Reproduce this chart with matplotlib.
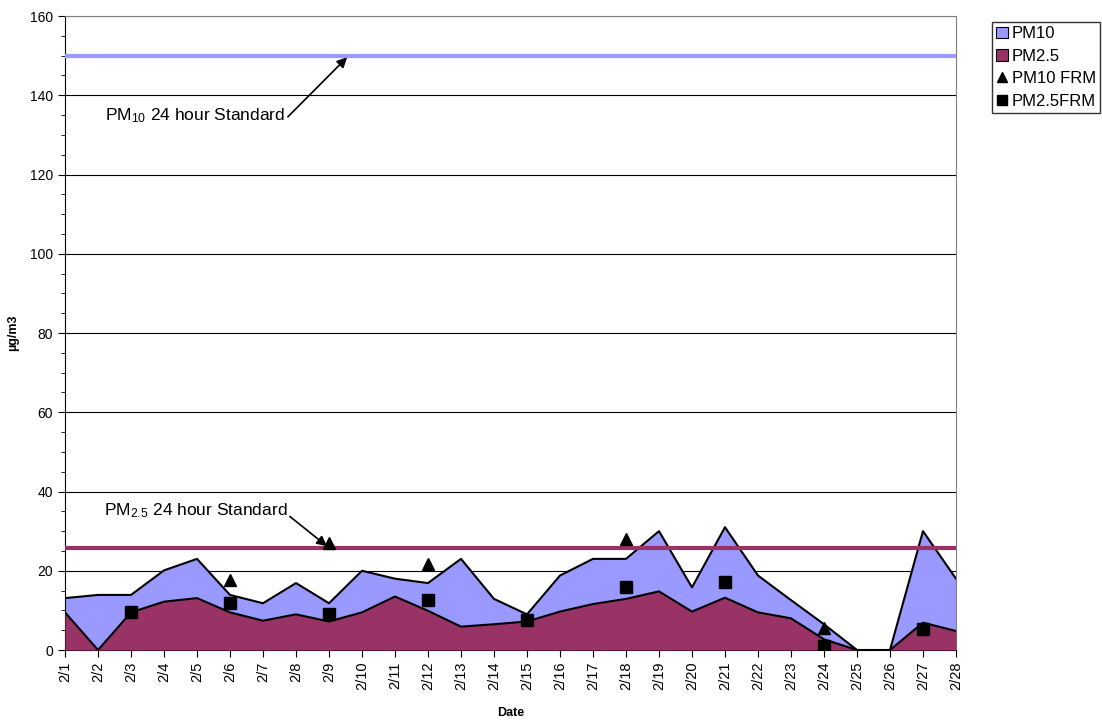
import numpy as np
import matplotlib.pyplot as plt
import matplotlib as mpl
from matplotlib.patches import Patch
from matplotlib.lines import Line2D
from matplotlib.ticker import MultipleLocator

mpl.rcParams.update({
    "font.family": ["Liberation Sans", "DejaVu Sans"],
    "mathtext.fontset": "custom",
    "mathtext.rm": "Liberation Sans",
    "mathtext.it": "Liberation Sans",
})

# Data
dates = [f"2/{d}" for d in range(1, 29)]
pm10 = [13.1, 13.9, 13.9, 20.1, 23.0, 13.9, 11.8, 16.9, 11.8, 20.0,
        18.0, 16.9, 23.0, 12.9, 9.0, 18.8, 23.0, 23.0, 30.0, 15.8,
        31.0, 18.8, 12.6, 6.5, 0.0, 0.0, 30.0, 18.0]
pm25 = [9.5, 0.0, 9.5, 12.2, 13.1, 9.5, 7.4, 9.0, 7.2, 9.5,
        13.5, 9.9, 5.9, 6.5, 7.2, 9.7, 11.6, 12.9, 14.8, 9.7,
        13.2, 9.5, 8.0, 2.7, 0.0, 0.0, 6.9, 4.8]
nan = np.nan
pm10_frm = [nan, nan, nan, nan, nan, 17.7, nan, nan, 27.0, nan,
            nan, 21.6, nan, nan, nan, nan, nan, 27.9, nan, nan,
            nan, nan, nan, 5.6, nan, nan, nan, nan]
pm25_frm = [nan, nan, 9.5, nan, nan, 11.8, nan, nan, 9.0, nan,
            nan, 12.5, nan, nan, 7.6, nan, nan, 15.9, nan, nan,
            17.2, nan, nan, 1.1, nan, nan, 5.3, nan]
pm10_std = 150
pm25_std = 25.7

x = np.arange(len(dates))

fig = plt.figure(figsize=(11.02, 7.22), dpi=100)
ax = fig.add_axes([0.059, 0.0997, 0.8085, 0.8781])

ax.yaxis.grid(True, color="black", linewidth=0.8, zorder=0)
ax.set_axisbelow(True)

ax.fill_between(x, pm10, color="#9999FF", zorder=2, linewidth=0)
ax.plot(x, pm10, color="black", linewidth=1.5, zorder=3)
ax.fill_between(x, pm25, color="#993366", zorder=4, linewidth=0)
ax.plot(x, pm25, color="black", linewidth=1.5, zorder=5)

ax.axhline(pm10_std, color="#9999FF", linewidth=3, zorder=6)
ax.axhline(pm25_std, color="#993366", linewidth=3, zorder=6)

ax.plot(x, pm10_frm, linestyle="none", marker="^", color="black", markersize=8, zorder=7)
ax.plot(x, pm25_frm, linestyle="none", marker="s", color="black", markersize=8, zorder=7)

arrow = dict(arrowstyle="-|>", color="black", lw=1.2, mutation_scale=15,
             shrinkA=0, shrinkB=0, relpos=(1.0, 0.3))
ax.annotate(r"PM$_{\mathrm{10}}$ 24 hour Standard", xy=(8.55, 149.6), xytext=(6.67, 134.8),
            ha="right", va="center", fontsize=12.5, arrowprops=arrow)
ax.annotate(r"PM$_{\mathrm{2.5}}$ 24 hour Standard", xy=(7.94, 26.2), xytext=(6.73, 35.2),
            ha="right", va="center", fontsize=12.5, arrowprops=arrow)

ax.set_xlim(0, len(dates) - 1)
ax.set_ylim(0, 160)
ax.set_xticks(x)
ax.set_xticklabels(dates, rotation=90, fontsize=10.5)
ax.yaxis.set_major_locator(MultipleLocator(20))
ax.yaxis.set_minor_locator(MultipleLocator(5))
ax.tick_params(axis="y", labelsize=10, direction="out", length=5)
ax.tick_params(axis="y", which="minor", direction="out", length=3)
ax.tick_params(axis="x", direction="out", length=5)

for s in ["top", "right"]:
    ax.spines[s].set_color("#808080")
for s in ["left", "bottom"]:
    ax.spines[s].set_color("black")

ax.set_ylabel("µg/m3", fontsize=9, fontweight="bold", labelpad=8)
ax.set_xlabel("Date", fontsize=9, fontweight="bold", labelpad=12)

handles = [
    Patch(facecolor="#9999FF", edgecolor="black", linewidth=0.8),
    Patch(facecolor="#993366", edgecolor="black", linewidth=0.8),
    Line2D([], [], linestyle="none", marker="^", color="black", markersize=7),
    Line2D([], [], linestyle="none", marker="s", color="black", markersize=7),
]
fig.legend(handles, ["PM10", "PM2.5", "PM10 FRM", "PM2.5FRM"],
           loc="upper left", bbox_to_anchor=(992 / 1102, 1 - 22 / 722),
           fontsize=12, frameon=True, fancybox=False, edgecolor="black",
           handlelength=0.7, handleheight=0.7, handletextpad=0.25,
           borderpad=0.25, labelspacing=0.45, borderaxespad=0)

fig.savefig("out.png", dpi=100)
